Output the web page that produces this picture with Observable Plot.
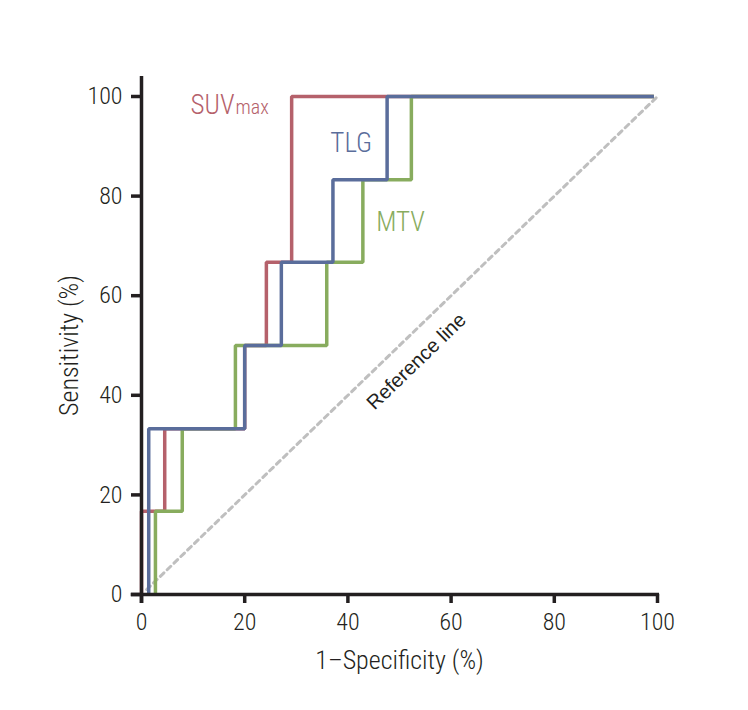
<!DOCTYPE html>
<html>
<head>
<meta charset="utf-8">
<script src="https://cdn.jsdelivr.net/npm/d3@7"></script>
<script src="https://cdn.jsdelivr.net/npm/@observablehq/plot@0.6"></script>
<style>
  html, body { margin: 0; padding: 0; background: #fff; }
</style>
</head>
<body>
<div id="chart"></div>
<script>
// ROC curves (in %)
const suvX = [0, 0, 4.5, 4.5, 20, 20, 24.2, 24.2, 29.1, 29.1, 99.3];
const suvY = [0, 16.7, 16.7, 33.3, 33.3, 50, 50, 66.7, 66.7, 100, 100];

const mtvX = [2.7, 2.7, 7.9, 7.9, 18.2, 18.2, 35.9, 35.9, 42.9, 42.9, 52.3, 52.3, 99.3];
const mtvY = [0, 16.7, 16.7, 33.3, 33.3, 50, 50, 66.7, 66.7, 83.3, 83.3, 100, 100];

const tlgX = [1.4, 1.4, 20, 20, 27.1, 27.1, 37.1, 37.1, 47.6, 47.6, 99.3];
const tlgY = [0, 33.3, 33.3, 50, 50, 66.7, 66.7, 83.3, 83.3, 100, 100];

const refX = [1, 100];
const refY = [1, 100];

const xTicks = [0, 20, 40, 60, 80, 100];
const yTicks = [0, 20, 40, 60, 80, 100];

const xLabel = "1\u2013Specificity (%)";
const yLabel = "Sensitivity (%)";

const seriesNames = ["SUV", "TLG", "MTV"];
const seriesLabelX = [9.5, 36.6, 45.5];
const seriesLabelY = [98.2, 90.6, 74.7];
const subscriptText = "max";

const refLabel = "Reference line";
const refLabelX = 53.3;
const refLabelY = 46.8;

const colors = { SUV: "#b5616b", TLG: "#5a6d9b", MTV: "#88ac5e" };

const pts = (xs, ys) => xs.map((x, i) => ({x, y: ys[i]}));
const labels = seriesNames.map((n, i) => ({name: n, x: seriesLabelX[i], y: seriesLabelY[i]}));

const condensed = "'Roboto Condensed', 'Liberation Sans Narrow', 'DejaVu Sans Condensed', Roboto, sans-serif";
const ink = "#231f20";

const chart = Plot.plot({
  width: 748,
  height: 710,
  marginLeft: 141,
  marginRight: 91,
  marginTop: 96,
  marginBottom: 116,
  x: {domain: [0, 100]},
  y: {domain: [0, 100]},
  style: {fontFamily: condensed, background: "#fff", color: ink},
  marks: [
    Plot.line(pts(refX, refY), {x: "x", y: "y", stroke: "#bfbfbf", strokeWidth: 3, strokeDasharray: "5,4.5"}),
    Plot.line(pts(suvX, suvY), {x: "x", y: "y", stroke: colors.SUV, strokeWidth: 3.5, strokeLinejoin: "miter", strokeLinecap: "butt"}),
    Plot.line(pts(mtvX, mtvY), {x: "x", y: "y", stroke: colors.MTV, strokeWidth: 3.5, strokeLinejoin: "miter", strokeLinecap: "butt"}),
    Plot.line(pts(tlgX, tlgY), {x: "x", y: "y", stroke: colors.TLG, strokeWidth: 3.5, strokeLinejoin: "miter", strokeLinecap: "butt"}),
    Plot.ruleY([0], {x1: -2, x2: 100.4, stroke: ink, strokeWidth: 3.5}),
    Plot.ruleX([0], {y1: -1.8, y2: 104, stroke: ink, strokeWidth: 3.5}),
    Plot.axisX({ticks: xTicks, tickSize: 9, tickPadding: 9, fontSize: 24, fontWeight: 300, strokeWidth: 3.5, stroke: ink, fill: ink, label: null}),
    Plot.axisY({ticks: yTicks, tickSize: 10, tickPadding: 9, fontSize: 24, fontWeight: 300, strokeWidth: 3.5, stroke: ink, fill: ink, label: null}),
    Plot.text([xLabel], {frameAnchor: "bottom", dy: 74, fontSize: 26, fontWeight: 300, fill: ink, fontFamily: condensed}),
    Plot.text([yLabel], {x: 0, y: 50, dx: -72, rotate: -90, fontSize: 26, fontWeight: 300, fill: ink, fontFamily: condensed}),
    Plot.text(labels, {x: "x", y: "y", text: "name", fill: d => colors[d.name], fontSize: 27, fontWeight: 300, textAnchor: "start", fontFamily: condensed}),
    Plot.text([subscriptText], {x: seriesLabelX[0], y: seriesLabelY[0], dx: 45, dy: 2.5, fill: colors.SUV, fontSize: 20, fontWeight: 300, textAnchor: "start", fontFamily: condensed}),
    Plot.text([refLabel], {x: refLabelX, y: refLabelY, rotate: -44, fontSize: 20, fill: ink, fontFamily: "'Liberation Sans', Arial, sans-serif"})
  ]
});
document.getElementById("chart").append(chart);
</script>
</body>
</html>
